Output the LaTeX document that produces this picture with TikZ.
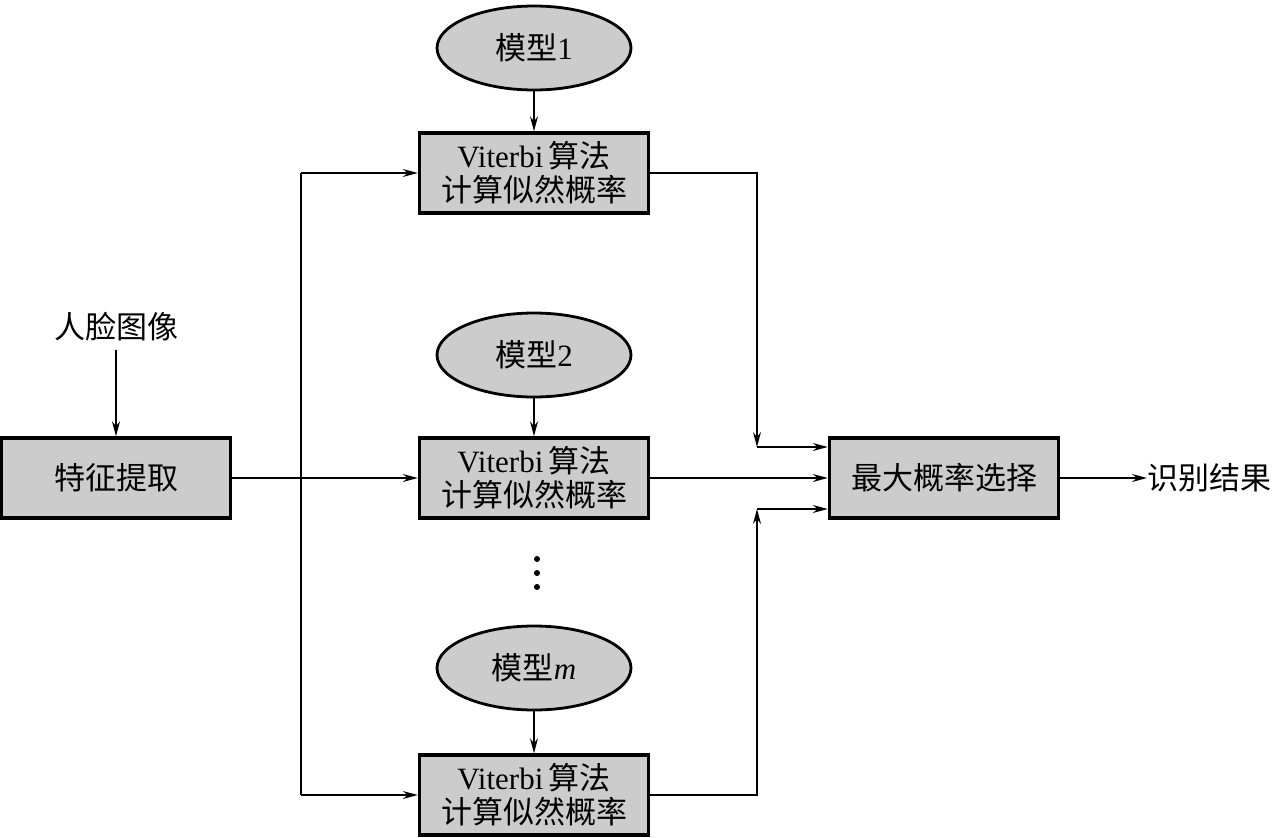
\documentclass[tikz,border=0pt]{standalone}
\usepackage{fontspec}
\setmainfont{Liberation Serif}
\newfontfamily\cjk{Noto Sans CJK SC}
\usetikzlibrary{shapes.geometric,arrows.meta}
\definecolor{boxgray}{gray}{0.8}
\tikzset{
  txt/.style={font=\fontsize{31}{36}\selectfont, inner sep=0pt},
  pbox/.style={draw, line width=3.5pt, fill=boxgray, minimum width=229pt, minimum height=80pt, inner sep=0pt, align=center, font=\fontsize{31}{36}\selectfont},
  model/.style={draw, ellipse, line width=2.8pt, fill=boxgray, minimum width=194pt, minimum height=84pt, inner sep=0pt, font=\fontsize{31}{36}\selectfont},
  conn/.style={line width=1.4pt},
  arr/.style={conn, -{Stealth[length=15pt,width=8pt,inset=5pt]}},
  dotc/.style={circle, fill, inner sep=0pt, minimum size=6pt}
}
\begin{document}
\begin{tikzpicture}[x=1pt,y=-1pt]
\useasboundingbox (0,0) rectangle (1272,838);
% models
\node[model] (m1) at (534,48) {{\cjk 模型}1};
\node[model] (m2) at (534,355) {{\cjk 模型}2};
\node[model] (mm) at (534,668) {{\cjk 模型}\textit{m}};
% viterbi boxes
\node[pbox] (v1) at (534,173) {Viterbi\,{\cjk 算法}\\[-2pt]{\cjk 计算似然概率}};
\node[pbox] (v2) at (534,478) {Viterbi\,{\cjk 算法}\\[-2pt]{\cjk 计算似然概率}};
\node[pbox] (v3) at (534,795) {Viterbi\,{\cjk 算法}\\[-2pt]{\cjk 计算似然概率}};
% dots
\node[dotc] (d1) at (537,559) {};
\node[dotc] (d2) at (537,573) {};
\node[dotc] (d3) at (537,587) {};
% feature extraction
\node[txt] (face) at (116,327) {\cjk 人脸图像};
\node[pbox] (fe) at (116,478) {\cjk 特征提取};
% max prob
\node[pbox] (mx) at (944,478) {\cjk 最大概率选择};
\node[txt, anchor=west] (res) at (1147,478) {\cjk 识别结果};
% coordinates
\coordinate (split) at (301,478);
\coordinate (j1) at (757,173);
\coordinate (j3) at (757,795);
% connectors
\draw[arr] (face.south |- 0,350) -- (fe.north);
\draw[arr] (m1.south) -- (v1.north);
\draw[arr] (m2.south) -- (v2.north);
\draw[arr] (mm.south) -- (v3.north);
\draw[arr] (fe.east) -- (v2.west);
\draw[arr] (split |- v1.west) -- (v1.west);
\draw[arr] (split |- v3.west) -- (v3.west);
\draw[conn] (split |- v1.west) -- (split |- v3.west);
\draw[arr] (v1.east) -- (j1) -- (757,447);
\draw[arr] (757,447) -- (mx.west |- 0,447);
\draw[arr] (v2.east) -- (mx.west);
\draw[arr] (v3.east) -- (j3) -- (757,509);
\draw[arr] (757,509) -- (mx.west |- 0,509);
\draw[arr] (mx.east) -- (res.west);
\end{tikzpicture}
\end{document}
